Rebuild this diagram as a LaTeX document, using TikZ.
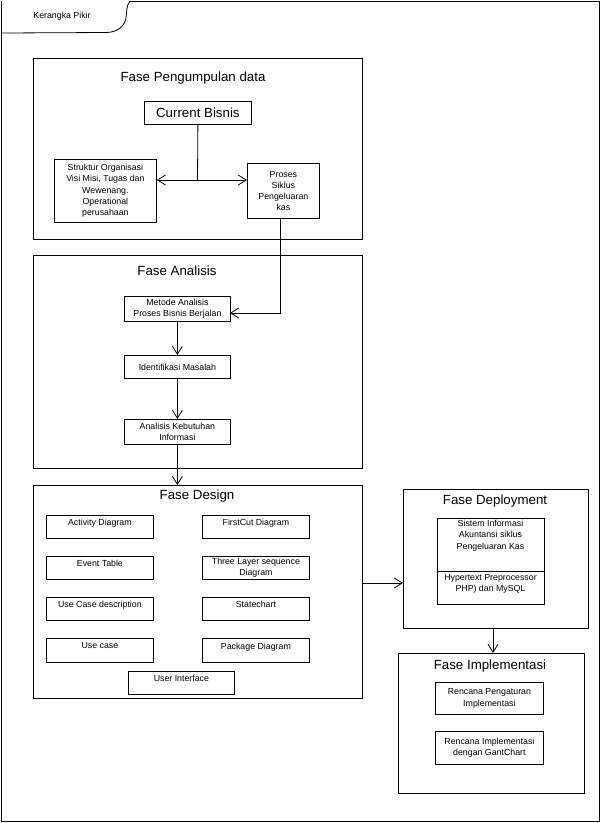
\documentclass[tikz,border=0pt]{standalone}
\usepackage{fontspec}
\setmainfont{Liberation Sans}
\usetikzlibrary{arrows.meta}
\begin{document}
\begin{tikzpicture}[x=1pt,y=-1pt,line width=0.8pt,
  big/.style={draw,anchor=north west,inner sep=0pt},
  box/.style={draw,anchor=north west,inner sep=1pt,align=center,font=\fontsize{8.8}{11.2}\selectfont},
  toptext/.style={text depth=9pt},
  title/.style={font=\fontsize{13.3}{15}\selectfont,inner sep=0pt},
  small/.style={font=\fontsize{8.8}{11.2}\selectfont,align=center,inner sep=0pt},
  arr/.style={-{Straight Barb[length=8pt,width=10pt,line width=0.8pt]}}]
\useasboundingbox (0,0) rectangle (601,823);
% outer frame with tab
\draw (130,1) -- (599,1) -- (599,821) -- (1.5,821) -- (1.5,1);
\draw (1.5,33) -- (107,32.5) .. controls (116,32) and (124,28) .. (126,18)
      .. controls (127,12) and (126,6) .. (130,1);
\node[small,anchor=center] (frametitle) at (62,16) {Kerangka Pikir};

% Fase Pengumpulan data
\node[big,minimum width=329pt,minimum height=181pt] (pengumpulan) at (33,58) {};
\node[title] (t1) at (193,78) {Fase Pengumpulan data};
\node[draw,anchor=north west,minimum width=107pt,minimum height=23pt,inner sep=0pt,title] (cb) at (144,101) {Current Bisnis};
\node[box,minimum width=102pt,minimum height=63pt] (struktur) at (54,159)
  {Struktur Organisasi\\Visi Misi, Tugas dan\\Wewenang.\\Operational\\perusahaan};
\node[box,minimum width=72pt,minimum height=55pt] (proses) at (247,163)
  {Proses\\Siklus\\Pengeluaran\\kas};
\coordinate (j) at (197.5,180);
\draw (cb.south) -- (j);
\draw[arr] (j) -- (j -| struktur.east);
\draw[arr] (j) -- (j -| proses.west);

% Fase Analisis
\node[big,minimum width=329pt,minimum height=213pt] (analisis) at (33,255) {};
\node[title] (t2) at (177,271) {Fase Analisis};
\node[box,minimum width=106pt,minimum height=25pt] (metode) at (124,296)
  {Metode Analisis\\Proses Bisnis Berjalan};
\node[box,minimum width=106pt,minimum height=23pt] (ident) at (124,355) {Identifikasi Masalah};
\node[box,minimum width=106pt,minimum height=25pt] (kebutuhan) at (124,419)
  {Analisis Kebutuhan\\Informasi};
\coordinate (p1) at (280,218);
\coordinate (p2) at (230,313);
\draw[arr] (p1) |- (p2);
\draw[arr] (metode.south) -- (ident.north);
\draw[arr] (ident.south) -- (kebutuhan.north);

% Fase Design
\node[big,minimum width=329pt,minimum height=213pt] (design) at (33,485) {};
\node[title] (t3) at (197,496) {Fase Design};
\node[box,toptext,minimum width=107pt,minimum height=23pt] (activity) at (46,515) {Activity Diagram};
\node[box,toptext,minimum width=107pt,minimum height=23pt] (event) at (46,556) {Event Table};
\node[box,toptext,minimum width=107pt,minimum height=23pt] (ucd) at (46,597) {Use Case description};
\node[box,toptext,minimum width=107pt,minimum height=24pt] (uc) at (46,638) {Use case};
\node[box,toptext,minimum width=107pt,minimum height=23pt] (firstcut) at (202,515) {FirstCut Diagram};
\node[box,minimum width=107pt,minimum height=23pt] (threelayer) at (202,556) {Three Layer sequence\\Diagram};
\node[box,toptext,minimum width=107pt,minimum height=23pt] (statechart) at (202,597) {Statechart};
\node[box,toptext,minimum width=107pt,minimum height=24pt] (package) at (202,638) {Package Diagram};
\node[box,toptext,minimum width=106pt,minimum height=23pt] (ui) at (128,671) {User Interface};
\draw[arr] (kebutuhan.south) -- (kebutuhan.south |- design.north);

% Fase Deployment
\node[big,minimum width=185pt,minimum height=139pt] (deployment) at (403,489) {};
\node[title] (t4) at (495,501) {Fase Deployment};
\node[big,minimum width=107pt,minimum height=86pt] (sia) at (437,518) {};
\coordinate (s1) at (437,571);
\draw (s1) -- (s1 -| sia.east);
\node[small,anchor=north] (siatext) at (490.5,520) {Sistem Informasi\\Akuntansi siklus\\Pengeluaran Kas};
\node[small,anchor=north] (phptext) at (490.5,574) {Hypertext Preprocessor\\PHP) dan MySQL};
\coordinate (d1) at (362,583);
\draw[arr] (d1) -- (d1 -| deployment.west);

% Fase Implementasi
\node[big,minimum width=186pt,minimum height=140pt] (impl) at (398,653) {};
\node[title] (t5) at (490,666) {Fase Implementasi};
\node[box,minimum width=108pt,minimum height=32pt] (rencana1) at (435,682) {Rencana Pengaturan\\Implementasi};
\node[box,minimum width=108pt,minimum height=33pt] (rencana2) at (435,731) {Rencana Implementasi\\dengan GantChart};
\coordinate (d2) at (493,628);
\draw[arr] (d2) -- (d2 |- impl.north);
\end{tikzpicture}
\end{document}
